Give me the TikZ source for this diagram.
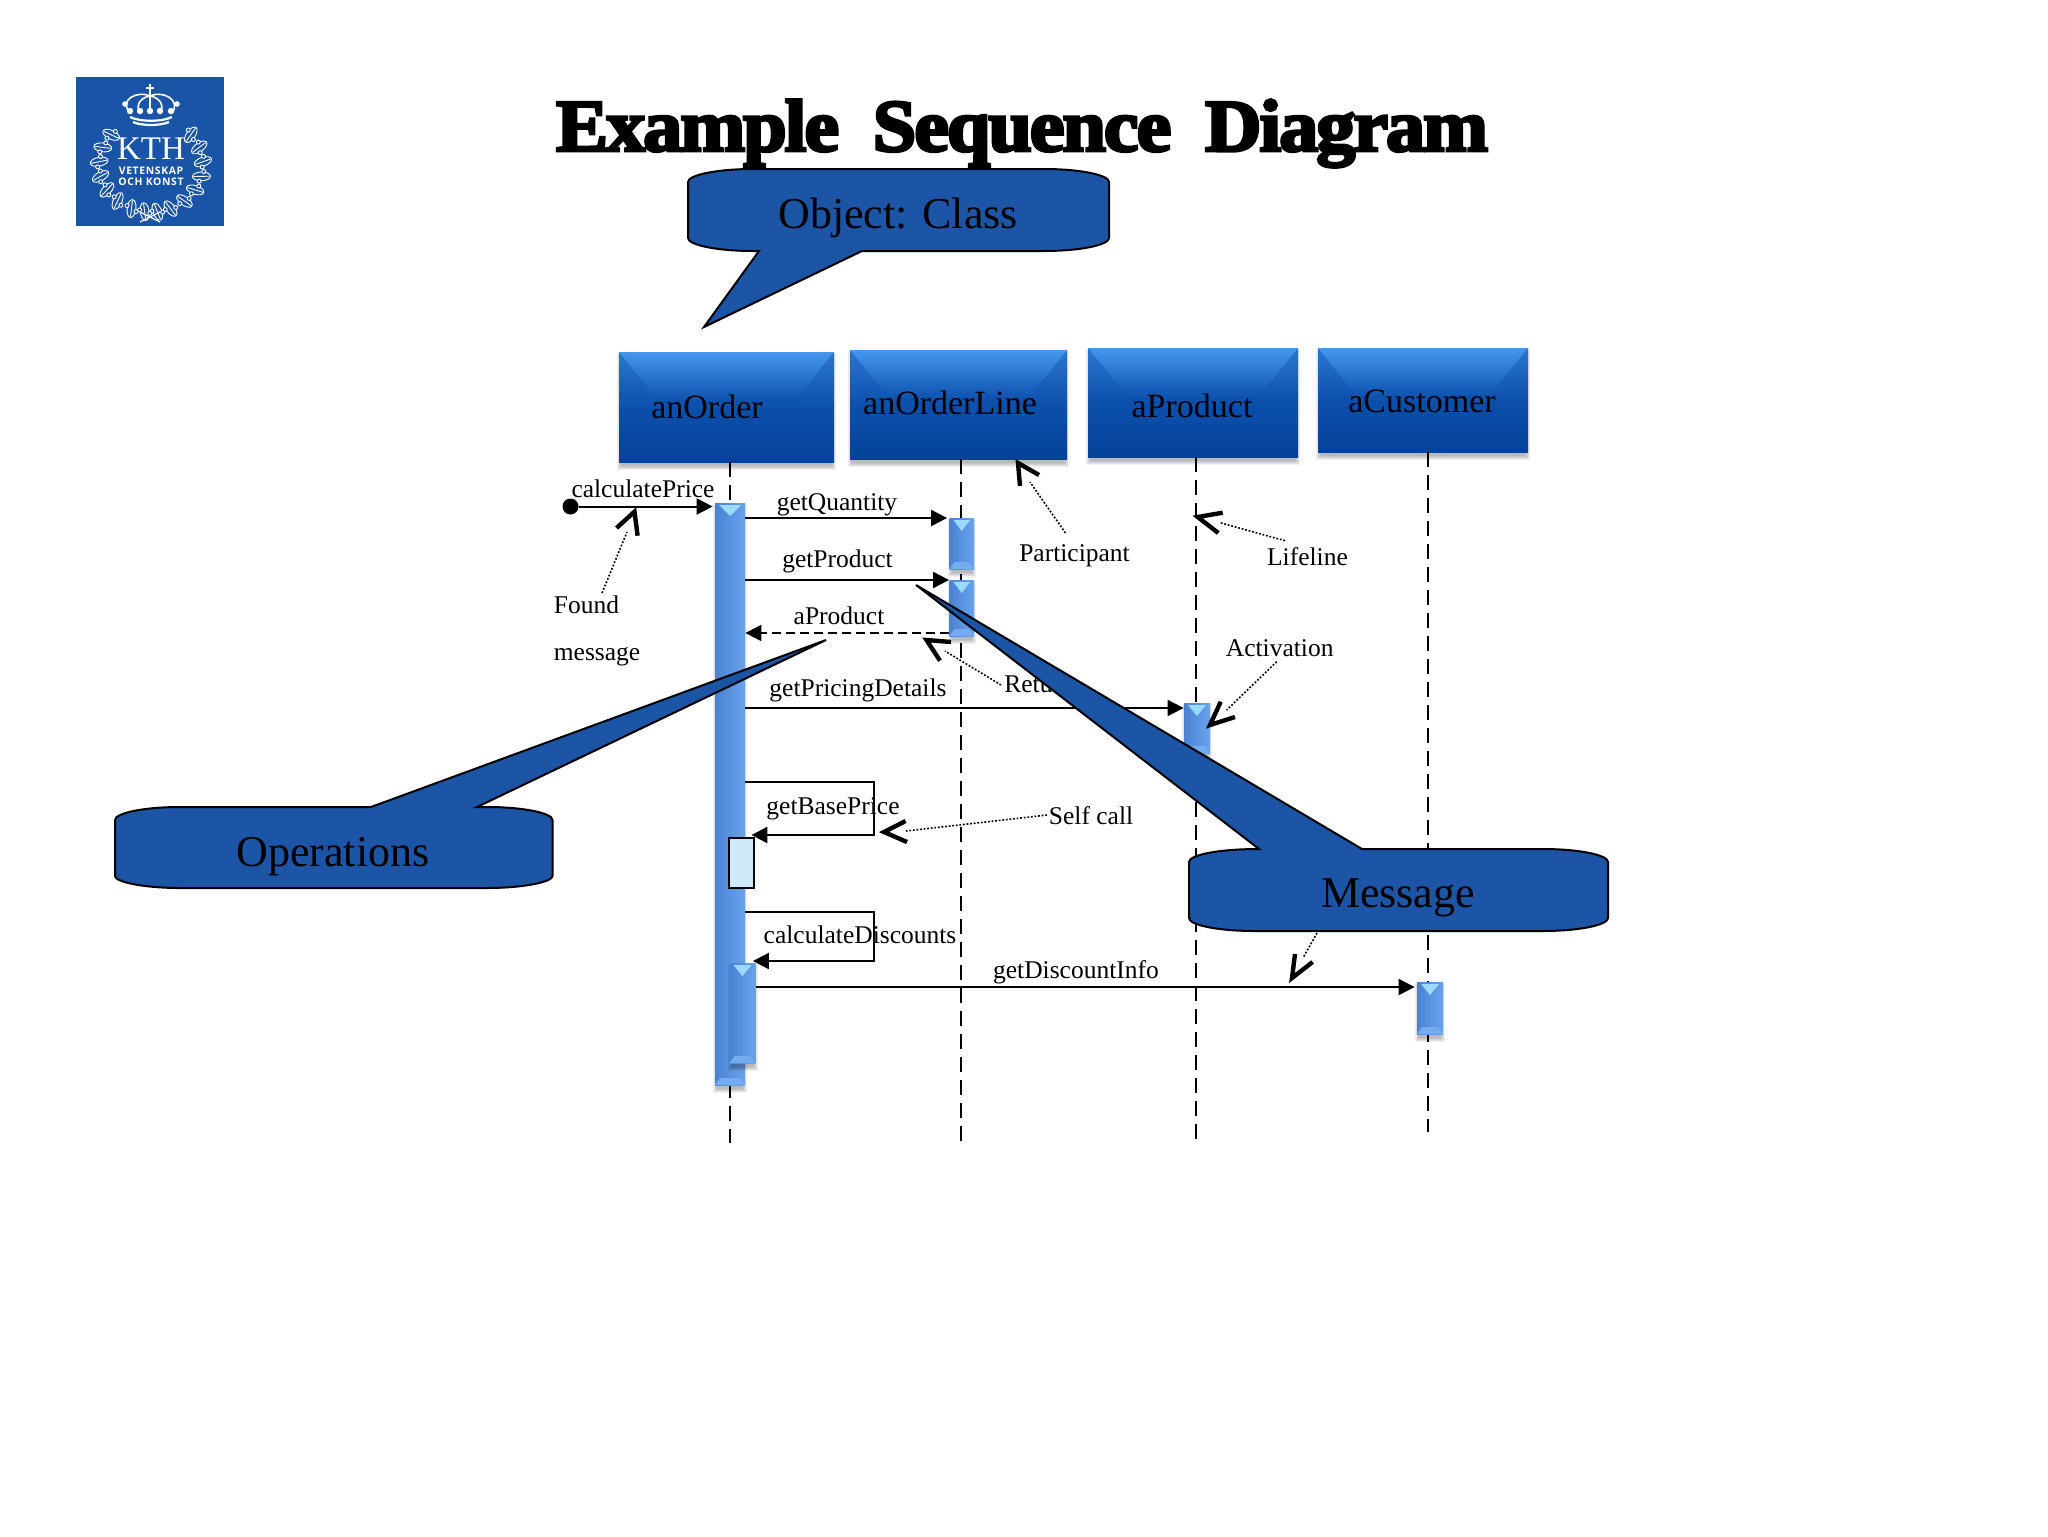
\documentclass[tikz,border=0pt]{standalone}
\usepackage{fontspec}
\setmainfont{Liberation Serif}
\newfontfamily\titlefont[FakeBold=4,LetterSpace=-2.5]{Liberation Serif Bold}
\newfontfamily\logosans{Open Sans}
\usetikzlibrary{arrows.meta,fit,calc}
\definecolor{kthblue}{HTML}{1954A6}
\definecolor{callblue}{HTML}{1C55A6}
\definecolor{boxtop}{HTML}{4696EE}
\definecolor{boxmid}{HTML}{0C50AC}
\definecolor{boxlow}{HTML}{054299}
\definecolor{barbase}{HTML}{5A93E0}
\definecolor{bardark}{HTML}{4A82D2}
\definecolor{barlight}{HTML}{6AA2EA}
\definecolor{bartri}{HTML}{9ADAFB}
\definecolor{selfbox}{HTML}{CFE9FB}
\tikzset{
  pxtext/.style={font=\fontsize{12.75pt}{14pt}\selectfont,inner sep=0pt,anchor=base,text=black},
  bigtext/.style={font=\fontsize{22pt}{24pt}\selectfont,inner sep=0pt,anchor=base,text=black},
  boxtext/.style={font=\fontsize{17pt}{19pt}\selectfont,inner sep=0pt,anchor=base,text=black},
  titletext/.style={font=\titlefont\fontsize{39pt}{42pt}\selectfont,inner sep=0pt,anchor=base,text=black},
  lifeline/.style={draw=black,line width=1pt,dash pattern=on 7.5pt off 4pt},
  msg/.style={draw=black,line width=1pt,-{Triangle[length=8pt,width=8pt]},shorten >=1pt},
  retmsg/.style={msg,dash pattern=on 4.5pt off 2.5pt},
  note/.style={draw=black,line width=.8pt,dash pattern=on .9pt off .9pt},
  chevron/.style={draw=black,line width=2.2pt,miter limit=10},
  callout/.style={fill=callblue,draw=black,line width=1pt,miter limit=6},
  lifebox/.style={inner sep=0pt,fill=boxmid,path picture={
    \fill[top color=boxtop!55!boxmid,bottom color=boxlow,middle color=boxmid] (path picture bounding box.south west) rectangle (path picture bounding box.north east);
    \fill[top color=boxtop,bottom color=boxmid] (path picture bounding box.north west) -- ++(40,50) -- ($(path picture bounding box.north east)+(-40,50)$) -- (path picture bounding box.north east) -- cycle;
    \draw[boxtop,line width=1pt] (path picture bounding box.north west) -- (path picture bounding box.north east);
  }},
  actbar/.style={inner sep=0pt,fill=barbase,path picture={
    \fill[left color=bardark,right color=barlight,middle color=barbase] (path picture bounding box.south west) rectangle (path picture bounding box.north east);
    \fill[bartri] ($(path picture bounding box.north west)+(4,2)$) -- ($(path picture bounding box.north east)+(-4,2)$) -- ($(path picture bounding box.north)+(0,13)$) -- cycle;
    \fill[barlight!80!bartri] (path picture bounding box.south west) -- ++(5,-7) -- ($(path picture bounding box.south east)+(-5,-7)$) -- (path picture bounding box.south east) -- cycle;
  }},
}
\newcommand{\softshadow}[4]{%
  \foreach \e in {1,2,3,4,5}{\fill[black,opacity=.06] ({#1+3-\e},{#2+6-\e}) rectangle ({#3-3+\e},{#4+3+\e});}}
\newcommand{\spanbox}[6]{% style, name, x0,y0,x1,y1
  \softshadow{#3}{#4}{#5}{#6}
  \coordinate (#2nw) at (#3,#4); \coordinate (#2se) at (#5,#6);
  \node[#1,fit=(#2nw)(#2se)] (#2) {};}
\begin{document}
\begin{tikzpicture}[x=0.5pt,y=-0.5pt]
\useasboundingbox (0,0) rectangle (2048,1536);
\fill[white] (0,0) rectangle (2048,1536);

% ---- logo
\fill[kthblue] (76,77) rectangle (224,226);
\begin{scope}[white,line width=.45pt]
  \foreach \a in {-40,-22,-4,14,32,50,68,83,97,112,130,148,166,184,202,220}{
    \draw[fill=kthblue,shift={({151+52*cos(\a)},{165+47*sin(\a)})},rotate=-\a+15] (0,0) ellipse [x radius=4.5pt,y radius=2.2pt];
    \draw[shift={({151+52*cos(\a)},{165+47*sin(\a)})},rotate=-\a+15] (-4pt,0) -- (4pt,0);
    \draw[fill=kthblue,shift={({151+52*cos(\a)},{165+47*sin(\a)})},rotate=-\a+15] (1.2pt,2.4pt) circle (1pt) (-1.2pt,-2.4pt) circle (1pt);
  }
  \draw[line width=.6pt] (140,212) -- (160,222) (160,212) -- (140,222);
  % crown
  \draw[line width=1.1pt] (130,117) .. controls (140,122) and (162,122) .. (172,117);
  \draw[line width=1.1pt] (133,122) .. controls (142,126) and (160,126) .. (169,122);
  \draw[line width=.8pt] (130,113) .. controls (118,100) and (138,90) .. (150,96) .. controls (162,90) and (182,100) .. (172,113);
  \draw[line width=.8pt] (140,114) .. controls (134,102) and (144,97) .. (150,96) .. controls (156,97) and (166,102) .. (160,114);
  \draw[line width=.8pt] (150,96) -- (150,114);
  \draw[line width=.8pt] (150,84) -- (150,95) (146,88) -- (154,88);
  \foreach \c in {130,140,150,160,171}{\fill (\c,111) circle (1.6pt);}
  \foreach \c in {125,177}{\fill (\c,104) circle (1.4pt);}
\end{scope}
\node[inner sep=0pt,anchor=base,text=white,font=\fontsize{16.5pt}{18pt}\selectfont] (logokth) at (151,159) {KTH};
\node[inner sep=0pt,anchor=base,text=white,font=\logosans\bfseries\fontsize{5.2pt}{6pt}\selectfont\addfontfeature{LetterSpace=6}] (logoa) at (151,174) {VETENSKAP};
\node[inner sep=0pt,anchor=base,text=white,font=\logosans\bfseries\fontsize{5.2pt}{6pt}\selectfont\addfontfeature{LetterSpace=6}] (logob) at (151,185) {OCH KONST};

% ---- title
\node[titletext] (t1) at (697.5,151) {\scalebox{1}[.95]{Example}};
\node[titletext] (t2) at (1022,151) {\scalebox{1}[.95]{Sequence}};
\node[titletext] (t3) at (1346.5,151) {\scalebox{1}[.95]{Diagram}};

% ---- lifelines
\spanbox{lifebox}{boxorder}{619}{352}{834}{462}
\spanbox{lifebox}{boxline}{850}{350}{1067}{459}
\spanbox{lifebox}{boxproduct}{1088}{348}{1298}{457}
\spanbox{lifebox}{boxcustomer}{1318}{348}{1528}{452}
\coordinate (endorder) at (729.5,1143);
\coordinate (endline) at (961,1142);
\coordinate (endproduct) at (1195.7,1139);
\coordinate (endcustomer) at (1428.3,1132);
\draw[lifeline] (endorder |- boxorder.south) -- (endorder);
\draw[lifeline] (endline |- boxline.south) -- (endline);
\draw[lifeline] (endproduct |- boxproduct.south) -- (endproduct);
\draw[lifeline] (endcustomer |- boxcustomer.south) -- (endcustomer);
\node[boxtext] (lorder) at (707,418) {anOrder};
\node[boxtext] (lline) at (950,414) {anOrderLine};
\node[boxtext] (lproduct) at (1192,417) {aProduct};
\node[boxtext] (lcustomer) at (1422,412) {aCustomer};

% ---- activation bars
\spanbox{actbar}{barorder}{715}{503}{745}{1085}
\spanbox{actbar}{barq}{949.5}{518}{974}{569}
\spanbox{actbar}{barp}{949.5}{580}{974}{636}
\spanbox{actbar}{barprod}{1184}{703}{1210}{753}
\spanbox{actbar}{barcust}{1417}{982}{1443}{1034}
\spanbox{actbar}{barnest}{729.5}{963}{755.5}{1063}
\coordinate (selfnw) at (728.5,838); \coordinate (selfse) at (754,888);
\node[fit=(selfnw)(selfse),inner sep=0pt,fill=selfbox,draw=black,line width=1pt] (selfbar) {};

% ---- messages
\node[circle,fill=black,minimum size=8pt,inner sep=0pt] (found) at (570.5,506.5) {};
\draw[msg] (found) -- (barorder.west |- found);
\draw[msg] (barorder.east |- 0,518) -- (barq.west |- 0,518);
\draw[msg,shorten >=0pt] (barorder.east |- 0,580) -- (barp.west |- 0,580);
\draw[retmsg,shorten >=0pt] (barp.west |- 0,633) -- (barorder.east |- 0,633);
\draw[msg,shorten >=0pt] (barorder.east |- 0,708) -- (barprod.west |- 0,708);
\coordinate (selfa) at (874,782); \coordinate (selfb) at (874,835);
\coordinate (selfc) at (874,912); \coordinate (selfd) at (874,961);
\draw[msg,shorten >=3pt] (barorder.east |- selfa) -- (selfa) -- (selfb) -- (barorder.east |- selfb);
\draw[msg,shorten >=3.75pt] (barorder.east |- selfc) -- (selfc) -- (selfd) -- (barorder.east |- selfd);
\draw[msg] (barnest.east |- 0,987) -- (barcust.west |- 0,987);
\node[pxtext] (mcalc) at (643,497) {calculatePrice};
\node[pxtext] (mq) at (837,510) {getQuantity};
\node[pxtext] (mp) at (837.5,567) {getProduct};
\node[pxtext] (ma) at (839,624.5) {aProduct};
\node[pxtext] (mpd) at (858,696) {getPricingDetails};
\node[pxtext] (mbp) at (833,814.5) {getBasePrice};
\node[pxtext] (mcd) at (860,943.5) {calculateDiscounts};
\node[pxtext] (mdi) at (1076,978) {getDiscountInfo};

% ---- annotations
\node[pxtext,anchor=base west] (nfound) at (553.5,613) {Found};
\node[pxtext,anchor=base west] (nmsg) at (553.5,660) {message};
\node[pxtext] (npart) at (1074.5,561) {Participant};
\node[pxtext] (nlife) at (1307.5,565.7) {Lifeline};
\node[pxtext] (nact) at (1279.7,656.7) {Activation};
\node[pxtext,anchor=base west] (nret) at (1004,692) {Return};
\node[pxtext,anchor=base west] (nself) at (1048.5,824.5) {Self call};

\coordinate (cfound) at (627,532);  \coordinate (ffound) at (602,593);
\coordinate (cpart) at (1030,482);  \coordinate (fpart) at (1065.4,533);
\coordinate (clife) at (1220,522.7);\coordinate (flife) at (1285,540.7);
\coordinate (cact) at (1226.7,710); \coordinate (fact) at (1276.7,661.7);
\coordinate (cret) at (945,651);    \coordinate (fret) at (1001,685);
\coordinate (cself) at (906,831);   \coordinate (fself) at (1047,815);
\coordinate (cmess) at (1303.5,957);\coordinate (fmess) at (1317,933);
\draw[note] (ffound) -- (cfound);
\draw[note] (fpart) -- (cpart);
\draw[note] (flife) -- (clife);
\draw[note] (fact) -- (cact);
\draw[note] (fret) -- (cret);
\draw[note] (fself) -- (cself);
\draw[note] (fmess) -- (cmess);

\draw[chevron] (616.5,528) -- (634.5,511.7) -- (637.6,535.7);
\draw[chevron] (1020,486) -- (1018,463) -- (1039,475);
\draw[chevron] (1222.7,512.7) -- (1197.7,517) -- (1218.3,533);
\draw[chevron] (1220.7,701.7) -- (1210,725) -- (1235,717);
\draw[chevron] (951,642) -- (926.5,640) -- (940,660.7);
\draw[chevron] (905.5,821) -- (884,832) -- (907,842);
\draw[chevron] (1295,954) -- (1292,978) -- (1312.6,962);

% ---- callouts
\draw[callout] (688,182) .. controls (688,175) and (717,169) .. (753,169) -- (1044,169) .. controls (1080,169) and (1109,175) .. (1109,182) -- (1109,238) .. controls (1109,245) and (1080,251) .. (1044,251) -- (862,251) -- (704,327) -- (759,251) -- (753,251) .. controls (717,251) and (688,245) .. (688,238) -- cycle;
\node[bigtext] (cobj) at (898,228) {Object: Class};
\draw[callout] (115,820) .. controls (115,813) and (144,807) .. (180,807) -- (371,807) -- (826,640) -- (477,807) -- (487,807) .. controls (523,807) and (552.5,813) .. (552.5,820) -- (552.5,876) .. controls (552.5,882) and (523,888) .. (487,888) -- (180,888) .. controls (144,888) and (115,882) .. (115,876) -- cycle;
\node[bigtext] (coper) at (333,866) {Operations};
\draw[callout] (1189,862) .. controls (1189,855) and (1218,849) .. (1259,849) -- (916,585) -- (1362,849) -- (1543,849) .. controls (1579,849) and (1608,855) .. (1608,862) -- (1608,918) .. controls (1608,925) and (1579,931) .. (1543,931) -- (1254,931) .. controls (1218,931) and (1189,925) .. (1189,918) -- cycle;
\node[bigtext] (cmessage) at (1398,907) {Message};
\end{tikzpicture}
\end{document}
